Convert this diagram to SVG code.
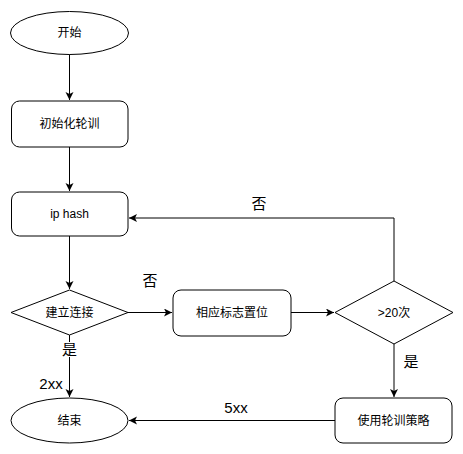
<svg xmlns="http://www.w3.org/2000/svg" width="463" height="454" viewBox="0 0 463 454">
<defs>
<marker id="arr" markerWidth="10" markerHeight="10" refX="8" refY="4" orient="auto" markerUnits="userSpaceOnUse">
<path d="M0,0 L8,4 L0,8 L2,4 Z" fill="#000"/>
</marker>
<style>
.shape{fill:#fff;stroke:#000;stroke-width:1}
.edge{fill:none;stroke:#000;stroke-width:1;marker-end:url(#arr)}
.t{font-family:"Liberation Sans","Noto Sans CJK SC",sans-serif;font-size:12px;fill:#000;text-anchor:middle;dominant-baseline:central}
.lbl{font-family:"Liberation Sans","Noto Sans CJK SC",sans-serif;font-size:15px;fill:#000;text-anchor:middle;dominant-baseline:central}
</style>
</defs>
<rect width="463" height="454" fill="#fff"/>
<g id="connectors">
<path class="edge" d="M69.5,54 V100"/>
<path class="edge" d="M69.5,147 V191"/>
<path class="edge" d="M69.5,236 V289"/>
<path class="edge" d="M128,312.5 H172"/>
<path class="edge" d="M291,312.5 H334"/>
<path class="edge" d="M394,281 V218 H129"/>
<path class="edge" d="M394,344 V397"/>
<path class="edge" d="M335,420.5 H129"/>
<path class="edge" d="M69.5,335 V397"/>
<rect x="61" y="342" width="17" height="15" fill="#fff"/>
<text class="lbl" x="150" y="280">否</text>
<text class="lbl" x="259" y="203">否</text>
<text class="lbl" x="411" y="361">是</text>
<text class="lbl" x="69.5" y="349.5">是</text>
<text class="lbl" x="51" y="383">2xx</text>
<text class="lbl" x="236" y="407">5xx</text>
</g>
<g id="start">
<ellipse class="shape" cx="69.5" cy="33" rx="59" ry="21.5"/>
<text class="t" x="69.5" y="33">开始</text>
</g>
<g id="init">
<rect class="shape" x="11.5" y="101" width="116.5" height="46" rx="8"/>
<text class="t" x="69.5" y="124">初始化轮训</text>
</g>
<g id="iphash">
<rect class="shape" x="11.5" y="192" width="116.5" height="44" rx="8"/>
<text class="t" x="69.5" y="214">ip hash</text>
</g>
<g id="connect">
<polygon class="shape" points="69.5,290 128,312.5 69.5,335 11,312.5"/>
<text class="t" x="69.5" y="312.5">建立连接</text>
</g>
<g id="flag">
<rect class="shape" x="173" y="290" width="118" height="46" rx="8"/>
<text class="t" x="232" y="313">相应标志置位</text>
</g>
<g id="count">
<polygon class="shape" points="394,281 453,312.5 394,344 335,312.5"/>
<text class="t" x="394" y="312.5">&gt;20次</text>
</g>
<g id="rr">
<rect class="shape" x="335" y="398" width="117" height="45" rx="8"/>
<text class="t" x="393.5" y="420.5">使用轮训策略</text>
</g>
<g id="end">
<ellipse class="shape" cx="69.5" cy="420.5" rx="58.5" ry="22.5"/>
<text class="t" x="69.5" y="420.5">结束</text>
</g>
</svg>
